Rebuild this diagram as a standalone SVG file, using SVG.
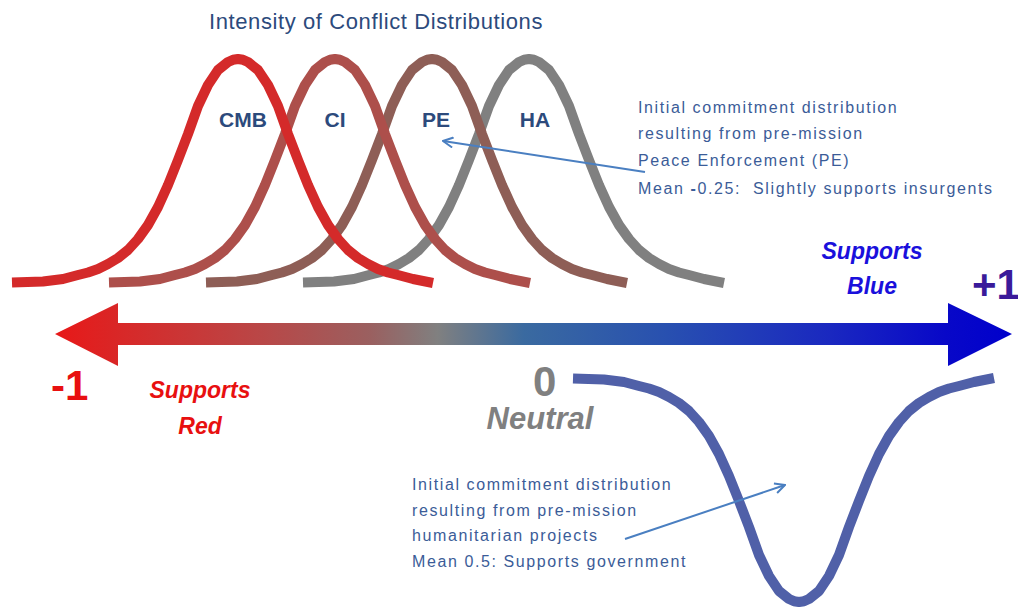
<svg xmlns="http://www.w3.org/2000/svg" width="1018" height="611" viewBox="0 0 1018 611">
<defs>
<style>
.bell{fill:none;stroke-width:10;stroke-linejoin:round;stroke-linecap:butt}
.lbl{font-family:"Liberation Sans",Arial,sans-serif;font-weight:bold;font-size:21px;fill:#2c4a7c;text-anchor:middle}
.note{font-family:"Liberation Sans",Arial,sans-serif;font-size:16px;letter-spacing:1.6px;fill:#3b5c98}
.pt{fill:none;stroke:#4a7fc1;stroke-width:2}
.big{font-family:"Liberation Sans",Arial,sans-serif;font-weight:bold;font-size:42px}
.side{font-family:"Liberation Sans",Arial,sans-serif;font-weight:bold;font-style:italic;font-size:23px;text-anchor:middle}
</style>
<path id="bellpath" d="M-226 223.5 L-195 222.5 L-175 220 L-160 216 L-150 213.5 L-140 210 L-130 205 L-120 199 L-110 191 L-100 180 L-90 166 L-80 148 L-70 126 L-60 101 L-50 75 L-40 47 L-30 26 L-20 11 L-10 3 L-5 0.8 L0 0 L5 0.8 L10 3 L20 11 L30 26 L40 47 L50 75 L60 101 L70 126 L80 148 L90 166 L100 180 L110 191 L120 199 L130 205 L140 210 L150 213.5 L160 216 L175 220 L195 224"/>
<linearGradient id="axisGrad" gradientUnits="userSpaceOnUse" x1="55" y1="0" x2="1012" y2="0">
<stop offset="0" stop-color="#e81818"/>
<stop offset="0.07" stop-color="#d82828"/>
<stop offset="0.22" stop-color="#b84848"/>
<stop offset="0.33" stop-color="#9a6060"/>
<stop offset="0.4" stop-color="#808080"/>
<stop offset="0.49" stop-color="#3a6aa0"/>
<stop offset="0.64" stop-color="#2850b0"/>
<stop offset="0.81" stop-color="#1a28c0"/>
<stop offset="0.93" stop-color="#0808c8"/>
<stop offset="1" stop-color="#0000cc"/>
</linearGradient>
<marker id="openArrow" viewBox="0 0 12 12" refX="11" refY="6" markerWidth="12" markerHeight="12" markerUnits="userSpaceOnUse" orient="auto">
<path d="M1 1 L11 6 L1 11" fill="none" stroke="#4a7fc1" stroke-width="2"/>
</marker>
</defs>
<rect width="1018" height="611" fill="#ffffff"/>
<text id="title" x="376" y="29" text-anchor="middle" font-family="'Liberation Sans',Arial,sans-serif" font-size="22" letter-spacing="0.6" fill="#2c4a7c">Intensity of Conflict Distributions</text>
<g id="node-HA">
<use href="#bellpath" class="bell" stroke="#808080" transform="translate(529,59)"/>
<text class="lbl" x="535" y="127">HA</text>
</g>
<g id="node-PE">
<use href="#bellpath" class="bell" stroke="#8e5e56" transform="translate(432,59)"/>
<text class="lbl" x="436" y="127">PE</text>
</g>
<g id="node-CI">
<use href="#bellpath" class="bell" stroke="#ad4f4b" transform="translate(335,59)"/>
<text class="lbl" x="335" y="127">CI</text>
</g>
<g id="node-CMB">
<use href="#bellpath" class="bell" stroke="#d42a2a" transform="translate(238,59)"/>
<text class="lbl" x="243" y="127">CMB</text>
</g>
<g id="node-axis">
<path d="M55 334 L118 303 L118 323 L948 323 L948 303 L1012 334 L948 366 L948 345 L118 345 L118 366 Z" fill="url(#axisGrad)"/>
<text class="big" x="51" y="400" fill="#e81010">-1</text>
<text class="big" x="533" y="396" font-size="40" fill="#808080">0</text>
<text class="big" x="972" y="299" fill="#3a1a9a">+1</text>
<text class="side" x="200" y="398" fill="#e81010">Supports</text>
<text class="side" x="200" y="434" fill="#e81010">Red</text>
<text class="side" x="872" y="259" fill="#1a10dc">Supports</text>
<text class="side" x="872" y="294" fill="#1a10dc">Blue</text>
<text x="540" y="429" text-anchor="middle" font-family="'Liberation Sans',Arial,sans-serif" font-weight="bold" font-style="italic" font-size="31" fill="#808080">Neutral</text>
</g>
<g id="node-humanitarian">
<use href="#bellpath" class="bell" stroke="#5060a8" stroke-width="9" transform="translate(799,602) scale(1,-1)"/>
</g>
<g id="note-PE">
<text class="note" x="638" y="113">Initial commitment distribution</text>
<text class="note" x="638" y="139">resulting from pre-mission</text>
<text class="note" x="638" y="166">Peace Enforcement (PE)</text>
<text class="note" x="638" y="194" xml:space="preserve">Mean <tspan font-weight="bold">-</tspan>0.25:  Slightly supports insurgents</text>
</g>
<g id="note-HA">
<text class="note" x="412" y="490">Initial commitment distribution</text>
<text class="note" x="412" y="516">resulting from pre-mission</text>
<text class="note" x="412" y="541">humanitarian projects</text>
<text class="note" x="412" y="567">Mean 0.5: Supports government</text>
</g>
<g id="connectors">
<line class="pt" x1="645" y1="172" x2="443" y2="141" marker-end="url(#openArrow)"/>
<line class="pt" x1="625" y1="539" x2="785" y2="485" marker-end="url(#openArrow)"/>
</g>
</svg>
